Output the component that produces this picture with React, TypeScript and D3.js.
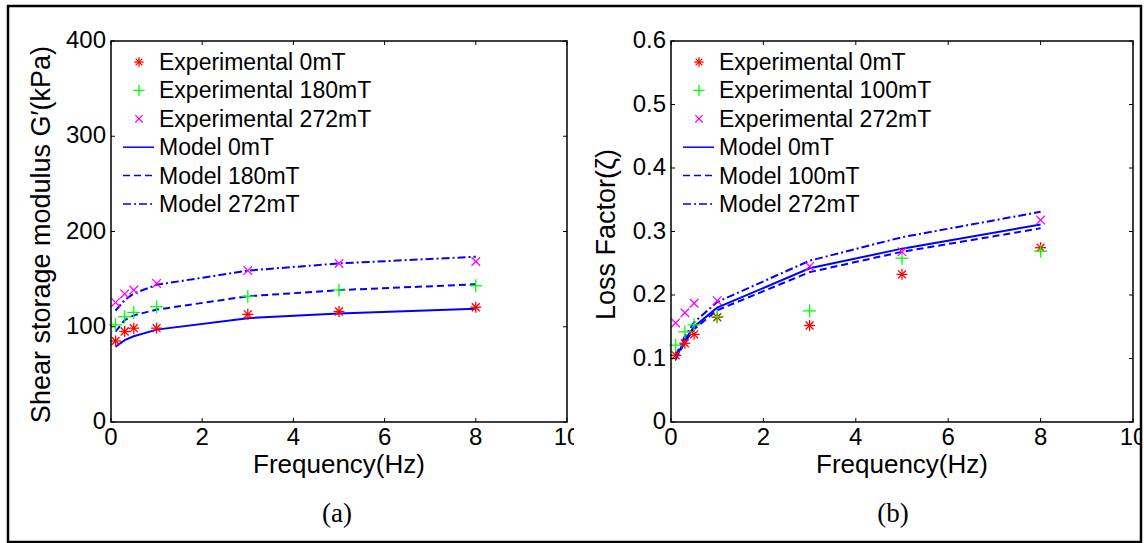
import React from "react";
import * as d3 from "d3";

const freqs = [0.1, 0.3, 0.5, 1, 3, 5, 8];

// Panel (a): shear storage modulus (kPa)
const expA0 = [85, 95, 98.5, 98.5, 113, 116, 120.5];
const expA180 = [102, 110.5, 115, 121, 132, 138.5, 143];
const expA272 = [125.5, 134.5, 138.5, 145.5, 159, 166.5, 168.5];
const modA0 = [79, 86, 90, 97, 109, 114, 119];
const modA180 = [95, 107, 112, 118, 132, 138.5, 144.5];
const modA272 = [117, 128, 135, 144, 159, 166.5, 173.5];

// Panel (b): loss factor
const expB0 = [0.105, 0.124, 0.138, 0.165, 0.152, 0.2325, 0.2745];
const expB100 = [0.121, 0.142, 0.153, 0.166, 0.175, 0.258, 0.269];
const expB272 = [0.156, 0.172, 0.187, 0.191, 0.245, 0.268, 0.318];
const modB0 = [0.1, 0.129, 0.15, 0.18, 0.242, 0.273, 0.311];
const modB100 = [0.098, 0.126, 0.146, 0.176, 0.236, 0.268, 0.305];
const modB272 = [0.104, 0.135, 0.157, 0.189, 0.254, 0.291, 0.331];

const xTicks = [0, 2, 4, 6, 8, 10];
const yTicksA = [0, 100, 200, 300, 400];
const yTicksB = [0, 0.1, 0.2, 0.3, 0.4, 0.5, 0.6];

const legendA = ["Experimental 0mT", "Experimental 180mT", "Experimental 272mT", "Model 0mT", "Model 180mT", "Model 272mT"];
const legendB = ["Experimental 0mT", "Experimental 100mT", "Experimental 272mT", "Model 0mT", "Model 100mT", "Model 272mT"];

const FONT = "Arial, 'Liberation Sans', Helvetica, sans-serif";
const BLUE = "#0000ff";
const dashes = [null, "7,4", "8,3,2,3"];

function Marker({ kind, x, y, s = 1 }: { kind: number; x: number; y: number; s?: number }) {
  if (kind === 0) {
    const r = 5.5 * s;
    const d = r * 0.72;
    return (
      <g stroke="#ff0000" strokeWidth={1.3}>
        <line x1={x - r} y1={y} x2={x + r} y2={y} />
        <line x1={x} y1={y - r} x2={x} y2={y + r} />
        <line x1={x - d} y1={y - d} x2={x + d} y2={y + d} />
        <line x1={x - d} y1={y + d} x2={x + d} y2={y - d} />
      </g>
    );
  }
  if (kind === 1) {
    const r = 6.5 * s;
    return (
      <g stroke="#00ff00" strokeWidth={1.3}>
        <line x1={x - r} y1={y} x2={x + r} y2={y} />
        <line x1={x} y1={y - r} x2={x} y2={y + r} />
      </g>
    );
  }
  const r = 4.3 * s;
  return (
    <g stroke="#ff00ff" strokeWidth={1.3}>
      <line x1={x - r} y1={y - r} x2={x + r} y2={y + r} />
      <line x1={x - r} y1={y + r} x2={x + r} y2={y - r} />
    </g>
  );
}

function Panel(props: {
  id: string;
  left: number;
  right: number;
  yMax: number;
  yTicks: number[];
  yFmt: (v: number) => string;
  exps: number[][];
  mods: number[][];
  legend: string[];
  ylabel: React.ReactNode;
  ylabelX: number;
  tag: string;
  tagX: number;
  clipRight: number;
}) {
  const top = 41;
  const bottom = 422;
  const x = d3.scaleLinear().domain([0, 10]).range([props.left, props.right]);
  const y = d3.scaleLinear().domain([0, props.yMax]).range([bottom, top]);
  const line = d3
    .line<number>()
    .x((_, i) => x(freqs[i]))
    .y((v) => y(v));
  const cx = (props.left + props.right) / 2;
  const legX = props.left + 12;
  const legY0 = 62;
  const legDy = 28.4;
  return (
    <g>
      <defs>
        <clipPath id={"clip" + props.id}>
          <rect x={0} y={0} width={props.clipRight} height={543} />
        </clipPath>
      </defs>
      {props.mods.map((m, k) => (
        <path
          key={"m" + k}
          d={line(m) || ""}
          fill="none"
          stroke={BLUE}
          strokeWidth={2}
          strokeDasharray={dashes[k] || undefined}
        />
      ))}
      {props.exps.map((e, k) =>
        e.map((v, i) => <Marker key={"e" + k + "_" + i} kind={k} x={x(freqs[i])} y={y(v)} />)
      )}
      <rect
        x={props.left}
        y={top}
        width={props.right - props.left}
        height={bottom - top}
        fill="none"
        stroke="#000"
        strokeWidth={1.5}
      />
      {xTicks.map((t) => (
        <g key={"xt" + t}>
          <line x1={x(t)} x2={x(t)} y1={bottom} y2={bottom - 4} stroke="#000" />
          <line x1={x(t)} x2={x(t)} y1={top} y2={top + 4} stroke="#000" />
        </g>
      ))}
      <g clipPath={`url(#clip${props.id})`}>
        {xTicks.map((t) => (
          <text
            key={"xl" + t}
            x={x(t)}
            y={445}
            textAnchor="middle"
            fontFamily={FONT}
            fontSize={24}
          >
            {t}
          </text>
        ))}
      </g>
      {props.yTicks.map((t) => (
        <g key={"yt" + t}>
          <line x1={props.left} x2={props.left + 4} y1={y(t)} y2={y(t)} stroke="#000" />
          <line x1={props.right} x2={props.right - 4} y1={y(t)} y2={y(t)} stroke="#000" />
          <text
            x={props.left - 5}
            y={y(t) + 7}
            textAnchor="end"
            fontFamily={FONT}
            fontSize={24}
          >
            {props.yFmt(t)}
          </text>
        </g>
      ))}
      <text x={cx} y={473} textAnchor="middle" fontFamily={FONT} fontSize={26}>
        Frequency(Hz)
      </text>
      <text
        transform={`translate(${props.ylabelX},${(top + bottom) / 2 + 3}) rotate(-90)`}
        textAnchor="middle"
        fontFamily={FONT}
        fontSize={27}
      >
        {props.ylabel}
      </text>
      <text
        x={props.tagX}
        y={522}
        textAnchor="middle"
        fontFamily="'Liberation Serif', 'Times New Roman', serif"
        fontSize={27}
      >
        {props.tag}
      </text>
      {props.legend.map((lab, i) => {
        const yy = legY0 + i * legDy;
        return (
          <g key={"lg" + i}>
            {i < 3 ? (
              <Marker kind={i} x={legX + 16} y={yy} s={0.85} />
            ) : (
              <line
                x1={legX}
                x2={legX + 31}
                y1={yy}
                y2={yy}
                stroke={BLUE}
                strokeWidth={1.5}
                strokeDasharray={dashes[i - 3] || undefined}
              />
            )}
            <text x={legX + 36} y={yy + 8} fontFamily={FONT} fontSize={23}>
              {lab}
            </text>
          </g>
        );
      })}
    </g>
  );
}

export default function App() {
  return (
    <svg
      width={1144}
      height={543}
      style={{ position: "absolute", left: 0, top: 0, background: "#fff" }}
    >
      <rect x={0} y={0} width={1144} height={543} fill="#fff" />
      <rect x={8} y={6} width={1133} height={536} fill="none" stroke="#000" strokeWidth={2.5} />
      <Panel
        id="a"
        left={111}
        right={567}
        yMax={400}
        yTicks={yTicksA}
        yFmt={(v) => String(v)}
        exps={[expA0, expA180, expA272]}
        mods={[modA0, modA180, modA272]}
        legend={legendA}
        ylabel={"Shear storage modulus G\u2032(kPa)"}
        ylabelX={50}
        tag="(a)"
        tagX={337}
        clipRight={574}
      />
      <Panel
        id="b"
        left={671}
        right={1133}
        yMax={0.6}
        yTicks={yTicksB}
        yFmt={(v) => (v === 0 ? "0" : d3.format(".1f")(v))}
        exps={[expB0, expB100, expB272]}
        mods={[modB0, modB100, modB272]}
        legend={legendB}
        ylabel={"Loss Factor(\u03B6)"}
        ylabelX={615}
        tag="(b)"
        tagX={893}
        clipRight={1140}
      />
    </svg>
  );
}
